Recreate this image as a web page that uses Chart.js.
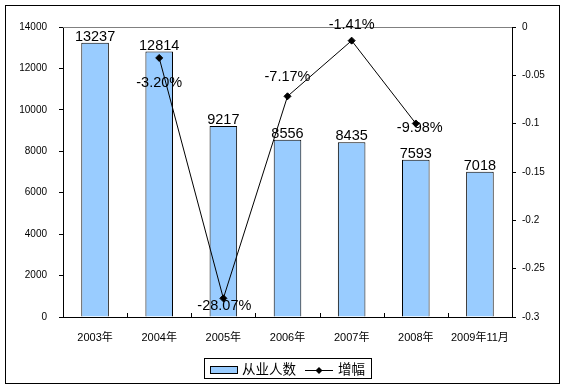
<!DOCTYPE html>
<html>
<head>
<meta charset="utf-8">
<script src="https://cdn.jsdelivr.net/npm/chart.js@4"></script>
<style>
  html, body { margin: 0; padding: 0; background: #fff; }
  canvas { display: block; }
</style>
</head>
<body>
<canvas id="chart" width="567" height="390"></canvas>
<script>
// ---- data ----
const YEARS = ["2003年", "2004年", "2005年", "2006年", "2007年", "2008年", "2009年11月"];
const EMPLOYED = [13237, 12814, 9217, 8556, 8435, 7593, 7018];   // 从业人数
const GROWTH = [null, -0.0320, -0.2807, -0.0717, -0.0141, -0.0998, null]; // 增幅
const LEFT_AXIS = { min: 0, max: 14000, step: 2000 };
const RIGHT_AXIS = { min: -0.3, max: 0, step: 0.05 };

const FONT = "'Liberation Sans', Arial, 'Noto Sans CJK SC', sans-serif";
Chart.defaults.font.family = FONT;
Chart.defaults.color = "#000";

// where each growth label sits relative to its point (dx, dy)
const pctShift = [null, [0, 25], [1, 8], [0, -19], [0, -16], [4, 5], null];

// ---- frame, ticks, labels, legend ----
const decorPlugin = {
    id: "decor",
    beforeDraw(chart) {
        const ctx = chart.ctx;
        ctx.save();
        ctx.fillStyle = "#fff";
        ctx.fillRect(0, 0, chart.width, chart.height);
        ctx.restore();
    },
    afterDatasetsDraw(chart) {
        const ctx = chart.ctx;
        const area = chart.chartArea;
        ctx.save();

        // gray top border of plot area
        ctx.strokeStyle = "#808080";
        ctx.lineWidth = 1;
        ctx.beginPath();
        ctx.moveTo(area.left, Math.round(area.top) + 0.5);
        ctx.lineTo(area.right, Math.round(area.top) + 0.5);
        ctx.stroke();

        // x ticks between categories, pointing inward
        const x = chart.scales.x;
        ctx.strokeStyle = "#000";
        ctx.beginPath();
        for (let i = 1; i < YEARS.length; i++) {
            const px = Math.round((x.getPixelForTick(i - 1) + x.getPixelForTick(i)) / 2) + 0.5;
            ctx.moveTo(px, area.bottom);
            ctx.lineTo(px, area.bottom - 4);
        }
        ctx.stroke();

        // bar value labels
        ctx.font = "14.5px " + FONT;
        ctx.fillStyle = "#000";
        ctx.textAlign = "center";
        ctx.textBaseline = "alphabetic";
        chart.getDatasetMeta(0).data.forEach((bar, i) => {
            ctx.fillText(String(EMPLOYED[i]), bar.x, bar.y - 2);
        });

        // growth labels
        ctx.textBaseline = "middle";
        chart.getDatasetMeta(1).data.forEach((pt, i) => {
            if (GROWTH[i] === null) return;
            const s = pctShift[i] || [0, -15];
            ctx.fillText((GROWTH[i] * 100).toFixed(2) + "%", pt.x + s[0], pt.y + s[1]);
        });
        ctx.restore();
    },
    afterDraw(chart) {
        const ctx = chart.ctx;
        ctx.save();
        // outer frame
        ctx.strokeStyle = "#000";
        ctx.lineWidth = 1;
        ctx.strokeRect(5.5, 5.5, 554, 378);

        // legend
        ctx.fillStyle = "#fff";
        ctx.fillRect(204.5, 358.5, 167, 20);
        ctx.strokeRect(204.5, 358.5, 167, 20);

        ctx.fillStyle = "#99CCFF";
        ctx.fillRect(210.5, 366.5, 27, 7);
        ctx.strokeRect(210.5, 366.5, 27, 7);

        ctx.fillStyle = "#000";
        ctx.font = "13.5px " + FONT;
        ctx.textAlign = "left";
        ctx.textBaseline = "middle";
        ctx.fillText("从业人数", 242, 370);

        ctx.beginPath();
        ctx.moveTo(305, 370.5);
        ctx.lineTo(333, 370.5);
        ctx.stroke();
        ctx.beginPath();
        ctx.moveTo(319, 367);
        ctx.lineTo(322.5, 370.5);
        ctx.lineTo(319, 374);
        ctx.lineTo(315.5, 370.5);
        ctx.closePath();
        ctx.fill();

        ctx.fillText("增幅", 338, 370);
        ctx.restore();
    }
};

new Chart(document.getElementById("chart"), {
    type: "bar",
    data: {
        labels: YEARS,
        datasets: [
            {
                type: "bar",
                label: "从业人数",
                data: EMPLOYED,
                backgroundColor: "#99CCFF",
                borderColor: "#000",
                borderWidth: 1,
                categoryPercentage: 1,
                barPercentage: 0.43,
                yAxisID: "y",
                order: 2
            },
            {
                type: "line",
                label: "增幅",
                data: GROWTH,
                borderColor: "#000",
                borderWidth: 1,
                backgroundColor: "#000",
                pointStyle: "rectRot",
                pointRadius: 3.5,
                pointBackgroundColor: "#000",
                pointBorderColor: "#000",
                tension: 0,
                yAxisID: "y1",
                order: 1
            }
        ]
    },
    options: {
        responsive: false,
        animation: false,
        devicePixelRatio: 1,
        layout: { padding: { top: 27, left: 0, right: 0, bottom: 0 } },
        plugins: {
            legend: { display: false },
            tooltip: { enabled: false }
        },
        scales: {
            x: {
                grid: { display: true, drawOnChartArea: false, drawTicks: false, color: "#000" },
                border: { display: true, color: "#000", width: 1 },
                ticks: { padding: 14, font: { size: 11 }, color: "#000", maxRotation: 0, autoSkip: false },
                afterFit(scale) { scale.height = 73; }
            },
            y: {
                position: "left",
                min: LEFT_AXIS.min,
                max: LEFT_AXIS.max,
                grid: { display: true, drawOnChartArea: false, drawTicks: true, tickLength: 4, color: "#000" },
                border: { display: true, color: "#000", width: 1 },
                ticks: {
                    stepSize: LEFT_AXIS.step,
                    padding: 12,
                    font: { size: 10 },
                    color: "#000",
                    callback: v => String(v)
                },
                afterFit(scale) { scale.width = 63; }
            },
            y1: {
                position: "right",
                min: RIGHT_AXIS.min,
                max: RIGHT_AXIS.max,
                grid: { display: true, drawOnChartArea: false, drawTicks: true, tickLength: 4, color: "#000" },
                border: { display: true, color: "#000", width: 1 },
                ticks: {
                    stepSize: RIGHT_AXIS.step,
                    padding: 6,
                    font: { size: 10 },
                    color: "#000",
                    callback: v => String(Number(v.toFixed(2)) || 0)
                },
                afterFit(scale) { scale.width = 55; }
            }
        }
    },
    plugins: [decorPlugin]
});
</script>
</body>
</html>
